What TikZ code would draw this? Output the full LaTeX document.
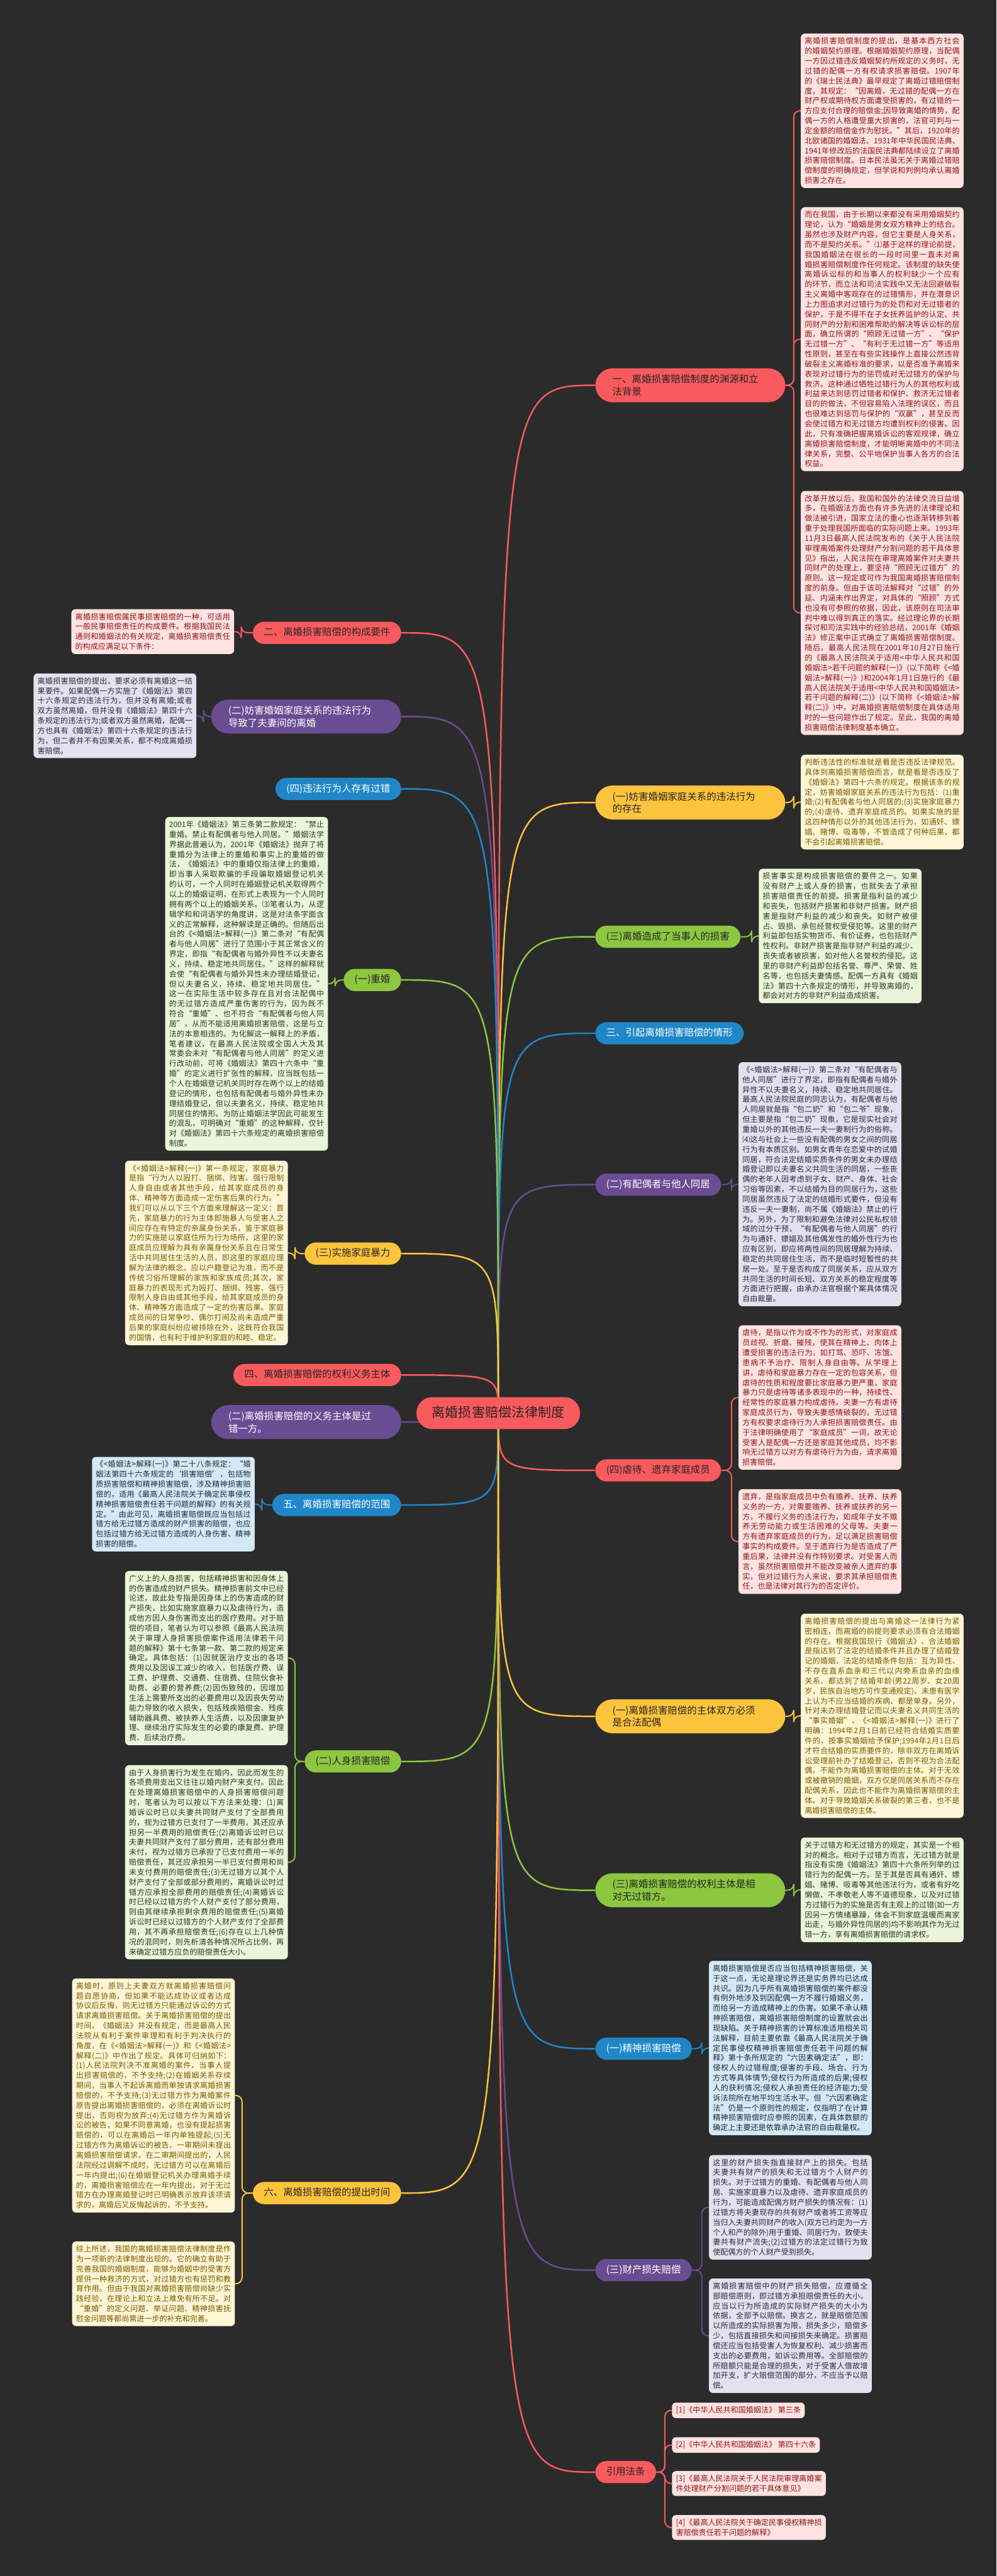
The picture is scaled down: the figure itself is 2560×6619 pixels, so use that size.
\documentclass[tikz,border=0pt]{standalone}
\usepackage{fontspec}
\newfontfamily\cjk{Noto Sans CJK SC}
\XeTeXlinebreaklocale "zh"
\XeTeXlinebreakskip=0pt plus 1pt
\usetikzlibrary{positioning, calc}
\pgfdeclarelayer{edges}
\pgfsetlayers{edges,main}

\definecolor{bgdark}{HTML}{2B2B2B}
\definecolor{cred}{HTML}{F95A5E}
\definecolor{cpurple}{HTML}{6A4C93}
\definecolor{cblue}{HTML}{1F87C8}
\definecolor{cgreen}{HTML}{8DC63F}
\definecolor{cyellow}{HTML}{FFC43D}
\definecolor{fred}{HTML}{FFE3E3}
\definecolor{fyellow}{HTML}{FFF6D6}
\definecolor{fgreen}{HTML}{EAF5DA}
\definecolor{fpurple}{HTML}{E4E1EE}
\definecolor{fblue}{HTML}{D4E8F6}
\definecolor{tred}{HTML}{8E1616}
\definecolor{tyellow}{HTML}{7A5A00}
\definecolor{tgreen}{HTML}{2E3A1E}
\definecolor{tpurple}{HTML}{2D2A3A}
\definecolor{tblue}{HTML}{1E2B36}

\tikzset{
topic/.style={
    rounded corners=14.5pt,
    inner xsep=14pt,
    inner ysep=8pt,
    text height=10pt,
    text depth=2.5pt,
    font=\cjk\fontsize{12.5}{16}\selectfont
},
twoline/.style={
    rounded corners=22pt,
    inner xsep=22pt,
    text height=,
    text depth=,
    text width=200pt,
    align=left
},
redtopic/.style={topic, fill=cred, text=black!85},
purpletopic/.style={topic, fill=cpurple, text=white},
bluetopic/.style={topic, fill=cblue, text=white},
greentopic/.style={topic, fill=cgreen, text=black!85},
yellowtopic/.style={topic, fill=cyellow, text=black!85},
note/.style={
    anchor=north west,
    rounded corners=5pt,
    inner xsep=5pt,
    inner ysep=5pt,
    text width=199pt,
    align=justify,
    font=\cjk\fontsize{9.75}{12.8}\selectfont
},
rednote/.style={note, fill=fred, text=tred},
yellownote/.style={note, fill=fyellow, text=tyellow},
greennote/.style={note, fill=fgreen, text=tgreen},
purplenote/.style={note, fill=fpurple, text=tpurple},
bluenote/.style={note, fill=fblue, text=tblue},
reference/.style={rednote, text width=, align=left},
trunk/.style={line width=2pt},
twig/.style={line width=1.6pt, rounded corners=8pt}
}

\begin{document}
\begin{tikzpicture}[x=0.5pt, y=-0.5pt]

    \begin{pgfonlayer}{edges}
    \fill[bgdark] (0,0) rectangle (2560,6619);
    \end{pgfonlayer}
    \useasboundingbox (0,0) rectangle (2560,6619);

    % centre
    \node[topic, fill=cred, text=black!85, font=\cjk\fontsize{17}{20}\selectfont,
        rounded corners=20pt, inner xsep=20pt, inner ysep=12.5pt, text height=13pt, text depth=3pt] (C) at (1280,3631) {离婚损害赔偿法律制度};

    % right topics
    \node[redtopic, twoline, anchor=west] (R1) at (1529,990) {一、离婚损害赔偿制度的渊源和立\\法背景};
    \node[yellowtopic, twoline, anchor=west] (R2) at (1529,2062) {(一)妨害婚姻家庭关系的违法行为\\的存在};
    \node[greentopic, anchor=west] (R3) at (1529,2407) {(三)离婚造成了当事人的损害};
    \node[bluetopic, anchor=west] (R4) at (1529,2655) {三、引起离婚损害赔偿的情形};
    \node[purpletopic, anchor=west] (R5) at (1529,3044) {(二)有配偶者与他人同居};
    \node[redtopic, anchor=west] (R6) at (1529,3778) {(四)虐待、遗弃家庭成员};
    \node[yellowtopic, twoline, anchor=west] (R7) at (1529,4410) {(一)离婚损害赔偿的主体双方必须\\是合法配偶};
    \node[greentopic, twoline, anchor=west] (R8) at (1529,4857) {(三)离婚损害赔偿的权利主体是相\\对无过错方。};
    \node[bluetopic, anchor=west] (R9) at (1529,5264) {(一)精神损害赔偿};
    \node[purpletopic, anchor=west] (R10) at (1529,5833) {(三)财产损失赔偿};
    \node[redtopic, anchor=west] (R11) at (1529,6352) {引用法条};

    % left topics
    \node[redtopic, anchor=east] (L1) at (1031,1626) {二、离婚损害赔偿的构成要件};
    \node[purpletopic, twoline, anchor=east] (L2) at (1031,1841) {(二)妨害婚姻家庭关系的违法行为\\导致了夫妻间的离婚};
    \node[bluetopic, anchor=east] (L3) at (1031,2027) {(四)违法行为人存有过错};
    \node[greentopic, anchor=east] (L4) at (1031,2518) {(一)重婚};
    \node[yellowtopic, anchor=east] (L5) at (1031,3221) {(三)实施家庭暴力};
    \node[redtopic, anchor=east] (L6) at (1031,3533) {四、离婚损害赔偿的权利义务主体};
    \node[purpletopic, twoline, anchor=east] (L7) at (1031,3654) {(二)离婚损害赔偿的义务主体是过\\错一方。};
    \node[bluetopic, anchor=east] (L8) at (1031,3867) {五、离婚损害赔偿的范围};
    \node[greentopic, anchor=east] (L9) at (1031,4526) {(二)人身损害赔偿};
    \node[yellowtopic, anchor=east] (L10) at (1031,5635) {六、离婚损害赔偿的提出时间};

    % right notes
    \node[rednote] (r1a) at (2057,86) {离婚损害赔偿制度的提出，是基本西方社会的婚姻契约原理。根据婚姻契约原理，当配偶一方因过错违反婚姻契约所规定的义务时，无过错的配偶一方有权请求损害赔偿。1907年的《瑞士民法典》最早规定了离婚过错赔偿制度，其规定：“因离婚，无过错的配偶一方在财产权或期待权方面遭受损害的，有过错的一方应支付合理的赔偿金;因导致离婚的情势，配偶一方的人格遭受重大损害的，法官可判与一定金额的赔偿金作为慰抚。”其后，1920年的北欧诸国的婚姻法、1931年中华民国民法典、1941年修改后的法国民法典都陆续设立了离婚损害赔偿制度。日本民法虽无关于离婚过错赔偿制度的明确规定，但学说和判例均承认离婚损害之存在。};
    \node[rednote] (r1b) at (2057,532) {而在我国，由于长期以来都没有采用婚姻契约理论，认为“婚姻是男女双方精神上的结合。虽然也涉及财产内容，但它主要是人身关系，而不是契约关系。”⑴基于这样的理论前提，我国婚姻法在很长的一段时间里一直未对离婚损害赔偿制度作任何规定。该制度的缺失使离婚诉讼标的和当事人的权利缺少一个应有的环节，而立法和司法实践中又无法回避破裂主义离婚中客观存在的过错情形，并在潜意识上力图追求对过错行为的处罚和对无过错者的保护，于是不得不在子女抚养监护的认定、共同财产的分割和困难帮助的解决等诉讼标的层面，确立所谓的“照顾无过错一方”、“保护无过错一方”、“有利于无过错一方”等适用性原则，甚至在有些实践操作上直接公然违背破裂主义离婚标准的要求，以是否准予离婚来表现对过错行为的惩罚或对无过错方的保护与救济。这种通过牺牲过错行为人的其他权利或利益来达到惩罚过错者和保护、救济无过错者目的的做法，不但容易陷入法理的误区，而且也很难达到惩罚与保护的“双赢”，甚至反而会使过错方和无过错方均遭到权利的侵害。因此，只有准确把握离婚诉讼的客观规律，确立离婚损害赔偿制度，才能明晰离婚中的不同法律关系，完整、公平地保护当事人各方的合法权益。};
    \node[rednote] (r1c) at (2057,1261) {改革开放以后，我国和国外的法律交流日益增多，在婚姻法方面也有许多先进的法律理论和做法被引进，国家立法的重心也逐渐转移到着重于处理我国所面临的实际问题上来。1993年11月3日最高人民法院发布的《关于人民法院审理离婚案件处理财产分割问题的若干具体意见》指出，人民法院在审理离婚案件对夫妻共同财产的处理上，要坚持“照顾无过错方”的原则。这一规定或可作为我国离婚损害赔偿制度的前身。但由于该司法解释对“过错”的外延、内涵未作出界定，对具体的“照顾”方式也没有可参照的依据，因此，该原则在司法审判中难以得到真正的落实。经过理论界的长期探讨和司法实践中的经验总结，2001年《婚姻法》修正案中正式确立了离婚损害赔偿制度。随后，最高人民法院在2001年10月27日施行的《最高人民法院关于适用<中华人民共和国婚姻法>若干问题的解释(一)》(以下简称《<婚姻法>解释(一)》)和2004年1月1日施行的《最高人民法院关于适用<中华人民共和国婚姻法>若干问题的解释(二)》(以下简称《<婚姻法>解释(二)》)中，对离婚损害赔偿制度在具体适用时的一些问题作出了规定。至此，我国的离婚损害赔偿法律制度基本确立。};
    \node[yellownote] (r2a) at (2057,1939) {判断违法性的标准就是看是否违反法律规范。具体到离婚损害赔偿而言，就是看是否违反了《婚姻法》第四十六条的规定。根据该条的规定，妨害婚姻家庭关系的违法行为包括：(1)重婚;(2)有配偶者与他人同居的;(3)实施家庭暴力的;(4)虐待、遗弃家庭成员的。如果实施的是这四种情形以外的其他违法行为，如通奸、嫖娼、赌博、吸毒等，不管造成了何种后果，都不会引起离婚损害赔偿。};
    \node[greennote] (r3a) at (1949,2232) {损害事实是构成损害赔偿的要件之一。如果没有财产上或人身的损害，也就失去了承担损害赔偿责任的前提。损害是指利益的减少和丧失，包括财产损害和非财产损害。财产损害是指财产利益的减少和丧失。如财产被侵占、毁损、承包经营权受侵犯等。这里的财产利益即包括实物货币、有价证券，也包括财产性权利。非财产损害是指非财产利益的减少、丧失或者被损害，如对他人名誉权的侵犯。这里的非财产利益即包括名誉、尊严、荣誉、姓名等，也包括夫妻情感。配偶一方具有《婚姻法》第四十六条规定的情形，并导致离婚的，都会对对方的非财产利益造成损害。};
    \node[purplenote] (r5a) at (1897,2729) {《<婚姻法>解释(一)》第二条对“有配偶者与他人同居”进行了界定，即指有配偶者与婚外异性不以夫妻名义，持续、稳定地共同居住。最高人民法院民庭的同志认为，有配偶者与他人同居就是指“包二奶”和“包二爷”现象，但主要是指“包二奶”现象，它是现实社会对重婚以外的其他违反一夫一妻制行为的俗称。⑷这与社会上一些没有配偶的男女之间的同居行为有本质区别。如男女青年在恋爱中的试婚同居，符合法定结婚实质条件的男女未办理结婚登记即以夫妻名义共同生活的同居，一些丧偶的老年人因考虑到子女、财产、身体、社会习俗等因素，不以结婚为目的同居行为，这些同居虽然违反了法定的结婚形式要件，但没有违反一夫一妻制，尚不属《婚姻法》禁止的行为。另外，为了限制和避免法律对公民私权领域的过分干预，“有配偶者与他人同居”的行为与通奸、嫖娼及其他偶发性的婚外性行为也应有区别，即应将两性间的同居理解为持续、稳定的共同居住生活，而不是临时短暂性的共居一处。至于是否构成了同居关系，应从双方共同生活的时间长短、双方关系的稳定程度等方面进行把握，由承办法官根据个案具体情况自由裁量。};
    \node[rednote] (r6a) at (1897,3405) {虐待，是指以作为或不作为的形式，对家庭成员歧视、折磨、摧残，使其在精神上、肉体上遭受损害的违法行为，如打骂、恐吓、冻饿、患病不予治疗、限制人身自由等。从学理上讲，虐待和家庭暴力存在一定的包容关系，但虐待的性质和程度要比家庭暴力更严重，家庭暴力只是虐待等诸多表现中的一种，持续性、经常性的家庭暴力构成虐待。夫妻一方有虐待家庭成员行为，导致夫妻感情破裂的，无过错方有权要求虐待行为人承担损害赔偿责任。由于法律明确使用了“家庭成员”一词，故无论受害人是配偶一方还是家庭其他成员，均不影响无过错方以对方有虐待行为为由，请求离婚损害赔偿。};
    \node[rednote] (r6b) at (1897,3826) {遗弃，是指家庭成员中负有赡养、抚养、扶养义务的一方，对需要赡养、抚养或扶养的另一方，不履行义务的违法行为，如成年子女不赡养无劳动能力或生活困难的父母等。夫妻一方有遗弃家庭成员的行为，足以满足损害赔偿事实的构成要件。至于遗弃行为是否造成了严重后果，法律并没有作特别要求。对受害人而言，虽然损害赔偿并不能改变被亲人遗弃的事实，但对过错行为人来说，要求其承担赔偿责任，也是法律对其行为的否定评价。};
    \node[yellownote] (r7a) at (2057,4146) {离婚损害赔偿的提出与离婚这一法律行为紧密相连，而离婚的前提则要求必须有合法婚姻的存在。根据我国现行《婚姻法》，合法婚姻是指达到了法定的结婚条件并且办理了结婚登记的婚姻，法定的结婚条件包括：互为异性、不存在直系血亲和三代以内旁系血亲的血缘关系、都达到了结婚年龄(男22周岁、女20周岁，民族自治地方可作变通规定)、未患有医学上认为不应当结婚的疾病、都是单身。另外，针对未办理结婚登记而以夫妻名义共同生活的“事实婚姻”，《<婚姻法>解释(一)》进行了明确：1994年2月1日前已经符合结婚实质要件的，按事实婚姻给予保护;1994年2月1日后才符合结婚的实质要件的，除非双方在离婚诉讼受理前补办了结婚登记，否则不视为合法配偶，不能作为离婚损害赔偿的主体。对于无效或被撤销的婚姻，双方仅是同居关系而不存在配偶关系，因此也不能作为离婚损害赔偿的主体。对于导致婚姻关系破裂的第三者，也不是离婚损害赔偿的主体。};
    \node[greennote] (r8a) at (2057,4721) {关于过错方和无过错方的规定，其实是一个相对的概念。相对于过错方而言，无过错方就是指没有实施《婚姻法》第四十六条所列举的过错行为的配偶一方。至于其是否具有通奸、嫖娼、赌博、吸毒等其他违法行为，或者有好吃懒做、不孝敬老人等不道德现象，以及对过错方过错行为的实施是否有主观上的过错(如一方因另一方情绪暴躁，体会不到家庭温暖而离家出走，与婚外异性同居的)均不影响其作为无过错一方，享有离婚损害赔偿的请求权。};
    \node[bluenote] (r9a) at (1821,5038) {离婚损害赔偿是否应当包括精神损害赔偿，关于这一点，无论是理论界还是实务界均已达成共识。因为几乎所有离婚损害赔偿的案件都没有例外地涉及到因配偶一方不履行婚姻义务，而给另一方造成精神上的伤害。如果不承认精神损害赔偿，离婚损害赔偿制度的设置就会出现缺陷。关于精神损害的计算标准适用相关司法解释，目前主要依靠《最高人民法院关于确定民事侵权精神损害赔偿责任若干问题的解释》第十条所规定的“六因素确定法”，即：侵权人的过错程度;侵害的手段、场合、行为方式等具体情节;侵权行为所造成的后果;侵权人的获利情况;侵权人承担责任的经济能力;受诉法院所在地平均生活水平。但“六因素确定法”仍是一个原则性的规定，仅指明了在计算精神损害赔偿时应参照的因素，在具体数额的确定上主要还是依靠承办法官的自由裁量权。};
    \node[purplenote] (r10a) at (1821,5537) {这里的财产损失指直接财产上的损失。包括夫妻共有财产的损失和无过错方个人财产的损失。对于过错方的重婚、有配偶者与他人同居、实施家庭暴力以及虐待、遗弃家庭成员的行为，可能造成配偶方财产损失的情况有：(1)过错方将夫妻现存的共有财产或者将工资等应当归入夫妻共同财产的收入(双方已约定为一方个人和产的除外)用于重婚、同居行为，致使夫妻共有财产流失;(2)过错方的法定过错行为致使配偶方的个人财产受到损失。};
    \node[purplenote] (r10b) at (1821,5854) {离婚损害赔偿中的财产损失赔偿，应遵循全部赔偿原则，即过错方承担赔偿责任的大小，应当以行为所造成的实际财产损失的大小为依据，全部予以赔偿。换言之，就是赔偿范围以所造成的实际损害为限，损失多少，赔偿多少，包括直接损失和间接损失来确定。损害赔偿还应当包括受害人为恢复权利、减少损害而支出的必要费用，如诉讼费用等。全部赔偿的所赔额只能是合理的损失，对于受害人借故增加开支，扩大赔偿范围的部分，不应当予以赔偿。};
    \node[reference] (ref1) at (1726,6173) {[1]《中华人民共和国婚姻法》 第三条};
    \node[reference] (ref2) at (1726,6262) {[2]《中华人民共和国婚姻法》 第四十六条};
    \node[reference] (ref3) at (1726,6349) {[3]《最高人民法院关于人民法院审理离婚案\\件处理财产分割问题的若干具体意见》};
    \node[reference] (ref4) at (1726,6462) {[4]《最高人民法院关于确定民事侵权精神损\\害赔偿责任若干问题的解释》};

    % left notes
    \node[rednote] (l1a) at (183,1565) {离婚损害赔偿属民事损害赔偿的一种，可适用一般民事赔偿责任的构成要件。根据我国民法通则和婚姻法的有关规定，离婚损害赔偿责任的构成应满足以下条件：};
    \node[purplenote] (l2a) at (86,1730) {离婚损害赔偿的提出，要求必须有离婚这一结果要件。如果配偶一方实施了《婚姻法》第四十六条规定的违法行为，但并没有离婚;或者双方虽然离婚，但并没有《婚姻法》第四十六条规定的违法行为;或者双方虽然离婚，配偶一方也具有《婚姻法》第四十六条规定的违法行为，但二者并不有因果关系，都不构成离婚损害赔偿。};
    \node[greennote] (l4a) at (424,2099) {2001年《婚姻法》第三条第二款规定：“禁止重婚。禁止有配偶者与他人同居。”婚姻法学界据此普遍认为，2001年《婚姻法》抛弃了将重婚分为法律上的重婚和事实上的重婚的做法，《婚姻法》中的重婚仅指法律上的重婚，即当事人采取欺骗的手段骗取婚姻登记机关的认可，一个人同时在婚姻登记机关取得两个以上的婚姻证明，在形式上表现为一个人同时拥有两个以上的婚姻关系。⑶笔者认为，从逻辑学和和词语学的角度讲，这是对法条字面含义的正常解释，这种解读是正确的。但随后出台的《<婚姻法>解释(一)》第二条对“有配偶者与他人同居”进行了范围小于其正常含义的界定，即指“有配偶者与婚外异性不以夫妻名义，持续、稳定地共同居住。”这样的解释就会使“有配偶者与婚外异性未办理结婚登记，但以夫妻名义，持续、稳定地共同居住。”这一在实际生活中较多存在且对合法配偶中的无过错方造成严重伤害的行为，因为既不符合“重婚”、也不符合“有配偶者与他人同居”，从而不能适用离婚损害赔偿，这是与立法的本意相违的。为化解这一解释上的矛盾，笔者建议，在最高人民法院或全国人大及其常委会未对“有配偶者与他人同居”的定义进行改动前，可将《婚姻法》第四十六条中“重婚”的定义进行扩张性的解释，应当既包括一个人在婚姻登记机关同时存在两个以上的结婚登记的情形，也包括有配偶者与婚外异性未办理结婚登记，但以夫妻名义，持续、稳定地共同居住的情形。为防止婚姻法学因此可能发生的混乱，可明确对“重婚”的这种解释，仅针对《婚姻法》第四十六条规定的离婚损害赔偿制度。};
    \node[yellownote] (l5a) at (321,2982) {《<婚姻法>解释(一)》第一条规定，家庭暴力是指“行为人以殴打、捆绑、残害、强行限制人身自由或者其他手段，给其家庭成员的身体、精神等方面造成一定伤害后果的行为。”我们可以从以下三个方面来理解这一定义：首先，家庭暴力的行为主体即施暴人与受害人之间应存在有特定的亲属身份关系，鉴于家庭暴力的实施是以家庭住所为行为场所，这里的家庭成员应理解为具有亲属身份关系且在日常生活中共同居住生活的人员，即这里的家庭应理解为法律的概念，应以户籍登记为准，而不是传统习俗所理解的家族和家族成员;其次，家庭暴力的表现形式为殴打、捆绑、残害、强行限制人身自由或其他手段，给其家庭成员的身体、精神等方面造成了一定的伤害后果。家庭成员间的日常争吵、偶尔打闹及尚未造成严重后果的家庭纠纷应被排除在外，这既符合我国的国情，也有利于维护利家庭的和睦、稳定。};
    \node[bluenote] (l8a) at (236,3743) {《<婚姻法>解释(一)》第二十八条规定：“婚姻法第四十六条规定的‘损害赔偿’，包括物质损害赔偿和精神损害赔偿，涉及精神损害赔偿的，适用《最高人民法院关于确定民事侵权精神损害赔偿责任若干问题的解释》的有关规定。”由此可见，离婚损害赔偿既应当包括过错方给无过错方造成的财产损害的赔偿，也应包括过错方给无过错方造成的人身伤害、精神损害的赔偿。};
    \node[greennote] (l9a) at (321,4036) {广义上的人身损害，包括精神损害和因身体上的伤害造成的财产损失。精神损害前文中已经论述，故此处专指是因身体上的伤害造成的财产损失，比如实施家庭暴力以及虐待行为，造成他方因人身伤害而支出的医疗费用。对于赔偿的项目，笔者认为可以参照《最高人民法院关于审理人身损害损偿案件适用法律若干问题的解释》第十七条第一款、第二款的规定来确定。具体包括：(1)因就医治疗支出的各项费用以及因误工减少的收入，包括医疗费、误工费、护理费、交通费、住宿费、住院伙食补助费、必要的营养费;(2)因伤致残的，因增加生活上需要所支出的必要费用以及因丧失劳动能力导致的收入损失，包括残疾赔偿金、残疾辅助器具费、被扶养人生活费，以及因康复护理、继续治疗实际发生的必要的康复费、护理费、后续治疗费。};
    \node[greennote] (l9b) at (321,4535) {由于人身损害行为发生在婚内，因此而发生的各项费用支出又往往以婚内财产来支付。因此在处理离婚损害赔偿中的人身损害赔偿问题时，笔者认为可以按以下方法来处理：(1)离婚诉讼时已以夫妻共同财产支付了全部费用的，视为过错方已支付了一半费用，其还应承担另一半费用的赔偿责任;(2)离婚诉讼时已以夫妻共同财产支付了部分费用，还有部分费用未付，视为过错方已承担了已支付费用一半的赔偿责任，其还应承担另一半已支付费用和尚未支付费用的赔偿责任;(3)无过错方以其个人财产支付了全部或部分费用的，离婚诉讼时过错方应承担全部费用的赔偿责任;(4)离婚诉讼时已经以过错方的个人财产支付了部分费用，则由其继续承担剩余费用的赔偿责任;(5)离婚诉讼时已经以过错方的个人财产支付了全部费用，其不再承担赔偿责任;(6)存在以上几种情况的混同时，则先析清各种情况所占比例，再来确定过错方应负的赔偿责任大小。};
    \node[yellownote] (l10a) at (185,5083) {离婚时，原则上夫妻双方就离婚损害赔偿问题自愿协商，但如果不能达成协议或者达成协议后反悔，则无过错方只能通过诉讼的方式请求离婚损害赔偿。关于离婚损害赔偿的提出时间，《婚姻法》并没有规定，而是最高人民法院从有利于案件审理和有利于判决执行的角度，在《<婚姻法>解释(一)》和《<婚姻法>解释(二)》中作出了规定。具体可归纳如下：(1)人民法院判决不准离婚的案件，当事人提出损害赔偿的，不予支持;(2)在婚姻关系存续期间，当事人不起诉离婚而单独请求离婚损害赔偿的，不予支持;(3)无过错方作为离婚案件原告提出离婚损害赔偿的，必须在离婚诉讼时提出，否则视为放弃;(4)无过错方作为离婚诉讼的被告，如果不同意离婚，也没有提起损害赔偿的，可以在离婚后一年内单独提起;(5)无过错方作为离婚诉讼的被告，一审期间未提出离婚损害赔偿请求，在二审期间提出的，人民法院经过调解不成时，无过错方可以在离婚后一年内提出;(6)在婚姻登记机关办理离婚手续的，离婚损害赔偿应在一年内提出，对于无过错方在办理离婚登记时已明确表示放弃该项请求的，离婚后又反悔起诉的，不予支持。};
    \node[yellownote] (l10b) at (185,5759) {综上所述，我国的离婚损害赔偿法律制度是作为一项新的法律制度出现的。它的确立有助于完善我国的婚姻制度，能够为婚姻中的受害方提供一种救济的方式，对过错方也有惩罚和教育作用。但由于我国对离婚损害赔偿尚缺少实践经验，在理论上和立法上难免有所不足。对“重婚”的定义问题、举证问题、精神损害抚慰金问题等都尚需进一步的补充和完善。};

    % edges
    \begin{pgfonlayer}{edges}
    \foreach \t/\c in {R1/cred, R2/cyellow, R3/cgreen, R4/cblue, R5/cpurple, R6/cred,
        R7/cyellow, R8/cgreen, R9/cblue, R10/cpurple, R11/cred}
        \draw[trunk, \c] (C.center) .. controls (C.center |- \t.west) .. (\t.west);
    \foreach \t/\c in {L1/cred, L2/cpurple, L3/cblue, L4/cgreen, L5/cyellow, L6/cred,
        L7/cpurple, L8/cblue, L9/cgreen, L10/cyellow}
        \draw[trunk, \c] (C.center) .. controls (C.center |- \t.east) .. (\t.east);

    \foreach \n/\b/\c in {r1a/R1/cred, r1b/R1/cred, r1c/R1/cred, r2a/R2/cyellow,
        r3a/R3/cgreen, r5a/R5/cpurple, r6a/R6/cred, r6b/R6/cred, r7a/R7/cyellow,
        r8a/R8/cgreen, r9a/R9/cblue, r10a/R10/cpurple, r10b/R10/cpurple,
        ref1/R11/cred, ref2/R11/cred, ref3/R11/cred, ref4/R11/cred}
        \draw[twig, \c] (\b.east) -| ($(\n.west)+(-18,0)$) -- (\n.west);
    \foreach \n/\b/\c in {l1a/L1/cred, l2a/L2/cpurple, l4a/L4/cgreen, l5a/L5/cyellow,
        l8a/L8/cblue, l9a/L9/cgreen, l9b/L9/cgreen, l10a/L10/cyellow, l10b/L10/cyellow}
        \draw[twig, \c] (\b.west) -| ($(\n.east)+(18,0)$) -- (\n.east);
    \end{pgfonlayer}

\end{tikzpicture}
\end{document}
